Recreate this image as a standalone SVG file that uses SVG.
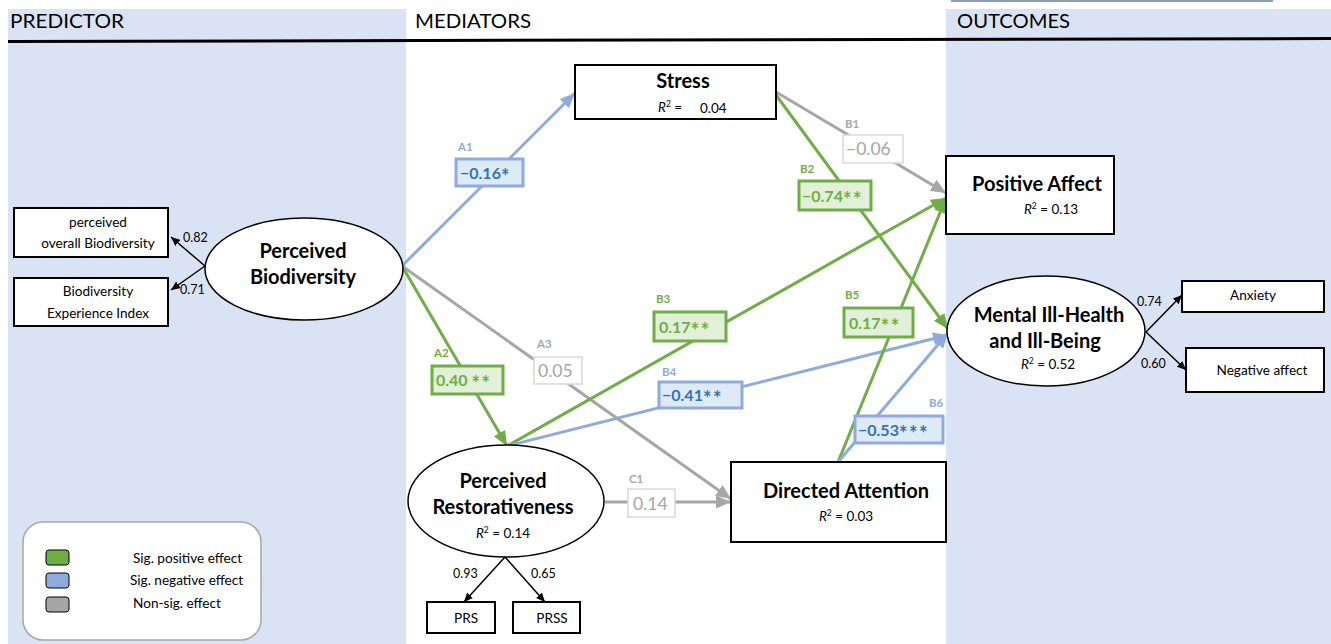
<svg xmlns="http://www.w3.org/2000/svg" width="1331" height="644" viewBox="0 0 1331 644">
<defs>
<style>
text{font-family:Lato,"Open Sans","Liberation Sans",sans-serif;fill:#000}
.hdr{font-size:19.5px}
.box{fill:#fff;stroke:#000;stroke-width:2}
.ell{fill:#fff;stroke:#000;stroke-width:1.5}
.big{font-size:20px;font-weight:700;text-anchor:middle}
.sm{font-size:13.6px;text-anchor:middle}
.r2{font-size:13.5px}
.ld{font-size:12.5px}
.meas{stroke:#000;stroke-width:1.5;fill:none;marker-end:url(#mk)}
.g{stroke:#70ad47;stroke-width:3;fill:none;marker-end:url(#mg)}
.b{stroke:#8faadc;stroke-width:3;fill:none;marker-end:url(#mb)}
.n{stroke:#a6a6a6;stroke-width:3;fill:none;marker-end:url(#mn)}
.gbox{fill:#e2f0d9;stroke:#70ad47;stroke-width:3}
.bbox{fill:#deebf7;stroke:#8faadc;stroke-width:3}
.nbox{fill:#fff;stroke:#d9d9d9;stroke-width:1.5}
.gt{font-size:16px;font-weight:700;fill:#70ad47}
.bt{font-size:16px;font-weight:700;fill:#2e75b6}
.st{font-size:20px;letter-spacing:1.5px}
.nt{font-size:17.5px;fill:#a6a6a6}
.gk{font-size:11.5px;font-weight:700;fill:#70ad47}
.bk{font-size:11.5px;font-weight:700;fill:#8faadc}
.nk{font-size:11.5px;font-weight:700;fill:#a6a6a6}
.leg{font-size:13.6px}
</style>
<marker id="mk" markerUnits="userSpaceOnUse" markerWidth="9" markerHeight="8" refX="9" refY="4" orient="auto"><path d="M0,0 L9,4 L0,8 z" fill="#000"/></marker>
<marker id="mg" markerUnits="userSpaceOnUse" markerWidth="15" markerHeight="13" refX="15" refY="6.5" orient="auto"><path d="M0,0 L15,6.5 L0,13 z" fill="#70ad47"/></marker>
<marker id="mb" markerUnits="userSpaceOnUse" markerWidth="15" markerHeight="13" refX="15" refY="6.5" orient="auto"><path d="M0,0 L15,6.5 L0,13 z" fill="#8faadc"/></marker>
<marker id="mn" markerUnits="userSpaceOnUse" markerWidth="15" markerHeight="13" refX="15" refY="6.5" orient="auto"><path d="M0,0 L15,6.5 L0,13 z" fill="#a6a6a6"/></marker>
</defs>

<g id="background">
<rect x="0" y="0" width="1331" height="644" fill="#fff"/>
<rect x="8" y="9" width="398" height="635" fill="#dae3f3"/>
<rect x="946" y="9" width="385" height="635" fill="#dae3f3"/>
<line x1="951" y1="1" x2="1273" y2="1" stroke="#8c9db3" stroke-width="2"/>
<line x1="8" y1="41.5" x2="1331" y2="38.5" stroke="#000" stroke-width="3"/>
<text class="hdr" x="10" y="28" textLength="114" lengthAdjust="spacingAndGlyphs">PREDICTOR</text>
<text class="hdr" x="415" y="28" textLength="116" lengthAdjust="spacingAndGlyphs">MEDIATORS</text>
<text class="hdr" x="957" y="28" textLength="113" lengthAdjust="spacingAndGlyphs">OUTCOMES</text>
</g>

<g id="connectors">
<path class="meas" d="M205,266 L171,237"/>
<path class="meas" d="M205,266 L171,290"/>
<path class="meas" d="M1146,332 L1182,295"/>
<path class="meas" d="M1146,332 L1186,370"/>
<path class="meas" d="M505,557 L464,602"/>
<path class="meas" d="M505,557 L545,602"/>
<path class="b" d="M402,266 L575,93"/>
<path class="g" d="M402,266 L507,446"/>
<path class="n" d="M402,266 L731,499"/>
<path class="n" d="M776,92 L946,193"/>
<path class="g" d="M776,95 L948,329"/>
<path class="g" d="M507,446 L946,198"/>
<path class="b" d="M507,446 L948,335"/>
<path class="g" d="M838,462 L946,198"/>
<path class="b" d="M838,462 L948,333"/>
<path class="n" d="M605,502 L731,502"/>
<text class="ld" x="183" y="242">0.82</text>
<text class="ld" x="180" y="294">0.71</text>
<text class="ld" x="1137" y="306">0.74</text>
<text class="ld" x="1141" y="368">0.60</text>
<text class="ld" x="453" y="578">0.93</text>
<text class="ld" x="531" y="578">0.65</text>
</g>

<g id="labels">
<text class="bk" x="458" y="151">A1</text>
<rect class="bbox" x="456" y="159" width="67" height="27"/>
<text class="bt" x="460" y="179">−0.16<tspan class="st" dy="5">*</tspan></text>

<text class="gk" x="434" y="357">A2</text>
<rect class="gbox" x="432" y="366" width="71" height="28"/>
<text class="gt" x="436" y="386">0.40 <tspan class="st" dy="5">**</tspan></text>

<text class="nk" x="537" y="348">A3</text>
<rect class="nbox" x="534" y="357" width="48" height="27"/>
<text class="nt" x="538" y="377">0.05</text>

<text class="nk" x="845" y="128">B1</text>
<rect class="nbox" x="843" y="135" width="60" height="28"/>
<text class="nt" x="846" y="155">−0.06</text>

<text class="gk" x="800" y="173">B2</text>
<rect class="gbox" x="799" y="181" width="72" height="29"/>
<text class="gt" x="802" y="202">−0.74<tspan class="st" dy="5">**</tspan></text>

<text class="gk" x="656" y="303">B3</text>
<rect class="gbox" x="654" y="312" width="72" height="29"/>
<text class="gt" x="659" y="333">0.17<tspan class="st" dy="5">**</tspan></text>

<text class="bk" x="662" y="376">B4</text>
<rect class="bbox" x="659" y="382" width="83" height="26"/>
<text class="bt" x="662" y="401">−0.41<tspan class="st" dy="5">**</tspan></text>

<text class="gk" x="845" y="299">B5</text>
<rect class="gbox" x="844" y="308" width="69" height="29"/>
<text class="gt" x="849" y="329">0.17<tspan class="st" dy="5">**</tspan></text>

<text class="bk" x="929" y="407">B6</text>
<rect class="bbox" x="855" y="416" width="88" height="27"/>
<text class="bt" x="858" y="436">−0.53<tspan class="st" dy="5">***</tspan></text>

<text class="nk" x="629" y="483">C1</text>
<rect class="nbox" x="628" y="489" width="47" height="28"/>
<text class="nt" x="633" y="510">0.14</text>
</g>

<g id="node-pob">
<rect class="box" x="14" y="208" width="154" height="49"/>
<text class="sm" x="98" y="227">perceived</text>
<text class="sm" x="98" y="248">overall Biodiversity</text>
</g>
<g id="node-bei">
<rect class="box" x="14" y="278" width="154" height="48"/>
<text class="sm" x="98" y="296">Biodiversity</text>
<text class="sm" x="98" y="318">Experience Index</text>
</g>
<g id="node-pb">
<ellipse class="ell" cx="304" cy="269" rx="99" ry="51"/>
<text class="big" x="303" y="258">Perceived</text>
<text class="big" x="303" y="284">Biodiversity</text>
</g>
<g id="node-stress">
<rect class="box" x="575" y="65" width="201" height="54"/>
<text class="big" x="683" y="88">Stress</text>
<text class="r2" x="658" y="112"><tspan font-style="italic">R</tspan><tspan font-size="8.5" dy="-5">2</tspan><tspan dy="5"> =</tspan></text>
<text class="r2" x="700" y="113">0.04</text>
</g>
<g id="node-pa">
<rect class="box" x="946" y="156" width="168" height="78"/>
<text class="big" x="1037" y="191">Positive Affect</text>
<text class="r2" x="1051" y="214" text-anchor="middle"><tspan font-style="italic">R</tspan><tspan font-size="8.5" dy="-5">2</tspan><tspan dy="5"> = 0.13</tspan></text>
</g>
<g id="node-mih">
<ellipse class="ell" cx="1046" cy="331" rx="99" ry="55"/>
<text class="big" x="1049" y="322">Mental Ill-Health</text>
<text class="big" x="1045" y="348">and Ill-Being</text>
<text class="r2" x="1048" y="369" text-anchor="middle"><tspan font-style="italic">R</tspan><tspan font-size="8.5" dy="-5">2</tspan><tspan dy="5"> = 0.52</tspan></text>
</g>
<g id="node-anx">
<rect class="box" x="1182" y="281" width="142" height="31"/>
<text class="sm" x="1253" y="300">Anxiety</text>
</g>
<g id="node-neg">
<rect class="box" x="1186" y="348" width="138" height="44"/>
<text class="sm" x="1262" y="375">Negative affect</text>
</g>
<g id="node-pr">
<ellipse class="ell" cx="506" cy="501" rx="98" ry="56"/>
<text class="big" x="503" y="488">Perceived</text>
<text class="big" x="503" y="514">Restorativeness</text>
<text class="r2" x="503" y="538" text-anchor="middle"><tspan font-style="italic">R</tspan><tspan font-size="8.5" dy="-5">2</tspan><tspan dy="5"> = 0.14</tspan></text>
</g>
<g id="node-da">
<rect class="box" x="731" y="462" width="215" height="80"/>
<text class="big" x="846" y="498">Directed Attention</text>
<text class="r2" x="846" y="521" text-anchor="middle"><tspan font-style="italic">R</tspan><tspan font-size="8.5" dy="-5">2</tspan><tspan dy="5"> =  0.03</tspan></text>
</g>
<g id="node-prs">
<rect class="box" x="427" y="602" width="68" height="31"/>
<text class="sm" x="466" y="623">PRS</text>
</g>
<g id="node-prss">
<rect class="box" x="513" y="602" width="67" height="31"/>
<text class="sm" x="552" y="623">PRSS</text>
</g>

<g id="legend">
<rect x="23" y="522" width="238" height="118" rx="20" fill="#fff" stroke="#a6a6a6" stroke-width="1.5"/>
<rect x="46" y="550" width="23" height="15" rx="3" fill="#70ad47" stroke="#000" stroke-width="1"/>
<rect x="46" y="573" width="23" height="15" rx="3" fill="#8faadc" stroke="#000" stroke-width="1"/>
<rect x="46" y="597" width="23" height="15" rx="3" fill="#a6a6a6" stroke="#000" stroke-width="1"/>
<text class="leg" x="133" y="563">Sig. positive effect</text>
<text class="leg" x="130" y="585">Sig. negative effect</text>
<text class="leg" x="133" y="608">Non-sig. effect</text>
</g>
</svg>
